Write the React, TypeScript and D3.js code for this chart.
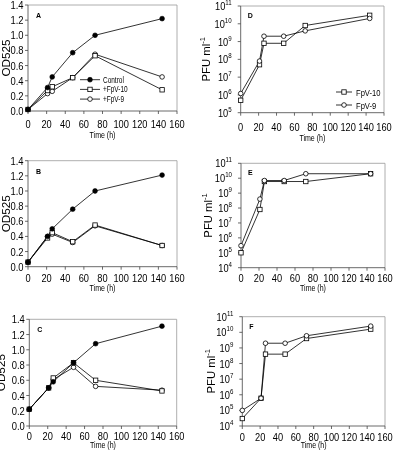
import React from 'react';
import * as d3 from 'd3';

const times = [0, 21, 26, 48, 72, 144];
const xTicks = [0, 20, 40, 60, 80, 100, 120, 140, 160];
const odTicks = [0, 0.2, 0.4, 0.6, 0.8, 1.0, 1.2, 1.4];

// OD525 panels
const aControl = [0.02, 0.31, 0.45, 0.77, 1.0, 1.22];
const aFpV10 = [0.02, 0.27, 0.32, 0.44, 0.73, 0.28];
const aFpV9 = [0.02, 0.23, 0.26, 0.44, 0.75, 0.45];

const bControl = [0.06, 0.4, 0.5, 0.76, 1.0, 1.21];
const bFpV10 = [0.06, 0.38, 0.45, 0.33, 0.55, 0.28];
const bFpV9 = [0.06, 0.4, 0.43, 0.32, 0.54, 0.28];

const cControl = [0.22, 0.5, 0.58, 0.83, 1.08, 1.31];
const cFpV10 = [0.22, 0.5, 0.63, 0.83, 0.6, 0.46];
const cFpV9 = [0.22, 0.5, 0.61, 0.77, 0.52, 0.47];

// PFU panels
const dFpV10 = [5e5, 5e7, 8e8, 8e8, 8e9, 3e10];
const dFpV9 = [1.2e6, 8e7, 2e9, 2e9, 4e9, 2e10];

const eFpV10 = [1e5, 8e7, 6e9, 6e9, 6e9, 2e10];
const eFpV9 = [3e5, 4e8, 7e9, 7e9, 2e10, 2e10];

const fFpV10 = [3e4, 6e5, 4e8, 4e8, 4e9, 1.6e10];
const fFpV9 = [1e5, 6e5, 2e9, 2e9, 6e9, 2.5e10];

const odLegend = ['Control', '+FpV-10', '+FpV-9'];
const pfuLegend = ['FpV-10', 'FpV-9'];

const FONT = 'Liberation Sans, Arial, Helvetica, sans-serif';
const SX = 0.82;

type Shape = 'filled' | 'square' | 'circle';

function Marker({ shape, x, y }: { shape: Shape; x: number; y: number }) {
  if (shape === 'square') {
    return <rect x={x - 2.2} y={y - 2.2} width={4.4} height={4.4} fill="#fff" stroke="#000" strokeWidth={0.8} />;
  }
  if (shape === 'circle') {
    return <circle cx={x} cy={y} r={2.3} fill="#fff" stroke="#000" strokeWidth={0.8} />;
  }
  return <circle cx={x} cy={y} r={2.4} fill="#000" stroke="#000" strokeWidth={0.6} />;
}

function T({ x, y, anchor = 'middle', size = 10, sx = SX, children }: any) {
  return (
    <text
      transform={`translate(${x},${y}) scale(${sx},1)`}
      textAnchor={anchor}
      fontSize={size}
      fontFamily={FONT}
      fill="#000"
    >
      {children}
    </text>
  );
}

type Series = { values: number[]; shape: Shape };

function SeriesLine({ s, x, y }: { s: Series; x: any; y: any }) {
  const line = d3
    .line<number>()
    .x((_, i) => x(times[i]))
    .y((v) => y(v));
  return <path d={line(s.values) || ''} fill="none" stroke="#000" strokeWidth={0.8} />;
}

function Markers({ s, x, y }: { s: Series; x: any; y: any }) {
  return (
    <g>
      {s.values.map((v, i) => (
        <Marker key={i} shape={s.shape} x={x(times[i])} y={y(v)} />
      ))}
    </g>
  );
}

function Frame({ x, x0, x1, y0, y1 }: any) {
  return (
    <g>
      <line x1={x0} x2={x1} y1={y1} y2={y1} stroke="#999" strokeWidth={0.8} />
      <line x1={x1} x2={x1} y1={y0} y2={y1} stroke="#999" strokeWidth={0.8} />
      <line x1={x0} x2={x0} y1={y0} y2={y1} stroke="#444" strokeWidth={0.8} />
      <line x1={x0} x2={x1} y1={y0} y2={y0} stroke="#444" strokeWidth={0.8} />
      {xTicks.map((t) => (
        <line key={t} x1={x(t)} x2={x(t)} y1={y0} y2={y0 + 3} stroke="#444" strokeWidth={0.8} />
      ))}
    </g>
  );
}

function ODPanel({ letter, left, right, top, bottom, control, f10, f9, labelX, tickY, timeY, legend }: any) {
  const x = d3.scaleLinear().domain([0, 160]).range([left, right]);
  const y = d3.scaleLinear().domain([0, 1.4]).range([bottom, top]);
  const series: Series[] = [
    { values: f9, shape: 'circle' },
    { values: f10, shape: 'square' },
    { values: control, shape: 'filled' },
  ];
  return (
    <g>
      <Frame x={x} x0={left} x1={right} y0={bottom} y1={top} />
      {odTicks.map((t) => (
        <g key={t}>
          <line x1={left - 3} x2={left} y1={y(t)} y2={y(t)} stroke="#444" strokeWidth={0.8} />
          <T x={left - 4.5} y={y(t) + 4} anchor="end" size={11.5}>
            {t.toFixed(1)}
          </T>
        </g>
      ))}
      {xTicks.map((t) => (
        <T key={t} x={x(t)} y={tickY} size={11.3}>
          {t}
        </T>
      ))}
      <T x={(left + right) / 2} y={timeY} size={8.8} sx={0.8}>
        Time (h)
      </T>
      <text
        transform={`translate(${labelX},${(top + bottom) / 2}) rotate(-90) scale(1.02,1)`}
        textAnchor="middle"
        fontSize={11.5}
        fontFamily={FONT}
        fill="#000"
      >
        OD525
      </text>
      <text x={left + 8} y={top + 13} fontSize={7} fontWeight="bold" fontFamily={FONT} fill="#000">
        {letter}
      </text>
      {series.map((s, i) => (
        <SeriesLine key={i} s={s} x={x} y={y} />
      ))}
      {series.map((s, i) => (
        <Markers key={i} s={s} x={x} y={y} />
      ))}
      {legend &&
        odLegend.map((name, i) => {
          const shapes: Shape[] = ['filled', 'square', 'circle'];
          const ly = legend.y + i * 9.7;
          return (
            <g key={name}>
              <line x1={legend.x} x2={legend.x + 20} y1={ly} y2={ly} stroke="#000" strokeWidth={0.8} />
              <Marker shape={shapes[i]} x={legend.x + 10} y={ly} />
              <T x={legend.x + 23} y={ly + 3} anchor="start" size={8.3} sx={0.78}>
                {name}
              </T>
            </g>
          );
        })}
    </g>
  );
}

function PFUPanel({ letter, left, right, top, bottom, minExp, f10, f9, labelX, tickY, timeY, legend }: any) {
  const x = d3.scaleLinear().domain([0, 160]).range([left, right]);
  const y = d3.scaleLog().domain([Math.pow(10, minExp), 1e11]).range([bottom, top]);
  const exps = d3.range(minExp, 12);
  const series: Series[] = [
    { values: f10, shape: 'square' },
    { values: f9, shape: 'circle' },
  ];
  return (
    <g>
      <Frame x={x} x0={left} x1={right} y0={bottom} y1={top} />
      {exps.map((e) => (
        <g key={e}>
          <line x1={left - 3} x2={left} y1={y(Math.pow(10, e))} y2={y(Math.pow(10, e))} stroke="#444" strokeWidth={0.8} />
          <text
            transform={`translate(${left - 9},${y(Math.pow(10, e)) + 4}) scale(${SX},1)`}
            textAnchor="end"
            fontSize={11.3}
            fontFamily={FONT}
            fill="#000"
          >
            10
            <tspan fontSize={7.5} dy={-5}>
              {e}
            </tspan>
          </text>
        </g>
      ))}
      {xTicks.map((t) => (
        <T key={t} x={x(t)} y={tickY} size={11.3}>
          {t}
        </T>
      ))}
      <T x={(left + right) / 2} y={timeY} size={8.8} sx={0.8}>
        Time (h)
      </T>
      <text
        transform={`translate(${labelX},${(top + bottom) / 2}) rotate(-90)`}
        textAnchor="middle"
        fontSize={11.3}
        fontFamily={FONT}
        fill="#000"
      >
        PFU ml
        <tspan fontSize={7.5} dy={-5}>
          -1
        </tspan>
      </text>
      <text x={left + 7} y={top + 12} fontSize={7} fontWeight="bold" fontFamily={FONT} fill="#000">
        {letter}
      </text>
      {series.map((s, i) => (
        <SeriesLine key={i} s={s} x={x} y={y} />
      ))}
      {series.map((s, i) => (
        <Markers key={i} s={s} x={x} y={y} />
      ))}
      {legend &&
        pfuLegend.map((name, i) => {
          const shapes: Shape[] = ['square', 'circle'];
          const ly = legend.y + i * 13;
          return (
            <g key={name}>
              <line x1={legend.x} x2={legend.x + 16} y1={ly} y2={ly} stroke="#000" strokeWidth={0.8} />
              <Marker shape={shapes[i]} x={legend.x + 8} y={ly} />
              <T x={legend.x + 20} y={ly + 3.5} anchor="start" size={9.5} sx={0.8}>
                {name}
              </T>
            </g>
          );
        })}
    </g>
  );
}

export default function App() {
  return (
    <svg
      width={400}
      height={452}
      style={{ position: 'absolute', left: 0, top: 0, background: '#fff', filter: 'grayscale(1)' }}
    >
      <rect width={400} height={452} fill="#fff" />
      <ODPanel letter="A" left={28} right={177} top={5} bottom={111} control={aControl} f10={aFpV10} f9={aFpV9}
        labelX={10} tickY={127.5} timeY={137.5} legend={{ x: 80, y: 79.7 }} />
      <ODPanel letter="B" left={28} right={177} top={160.7} bottom={266.7} control={bControl} f10={bFpV10} f9={bFpV9}
        labelX={10} tickY={282} timeY={291} />
      <ODPanel letter="C" left={29.3} right={176.7} top={319.3} bottom={426} control={cControl} f10={cFpV10} f9={cFpV9}
        labelX={5} tickY={440} timeY={447.5} />
      <PFUPanel letter="D" left={240.7} right={384} top={6} bottom={112.7} minExp={5} f10={dFpV10} f9={dFpV9}
        labelX={210} tickY={130.5} timeY={141} legend={{ x: 336, y: 92 }} />
      <PFUPanel letter="E" left={241} right={385} top={163.3} bottom={267.7} minExp={4} f10={eFpV10} f9={eFpV9}
        labelX={212} tickY={282} timeY={291} />
      <PFUPanel letter="F" left={242.3} right={385} top={316.7} bottom={426} minExp={4} f10={fFpV10} f9={fFpV9}
        labelX={215} tickY={440.5} timeY={448} />
    </svg>
  );
}
